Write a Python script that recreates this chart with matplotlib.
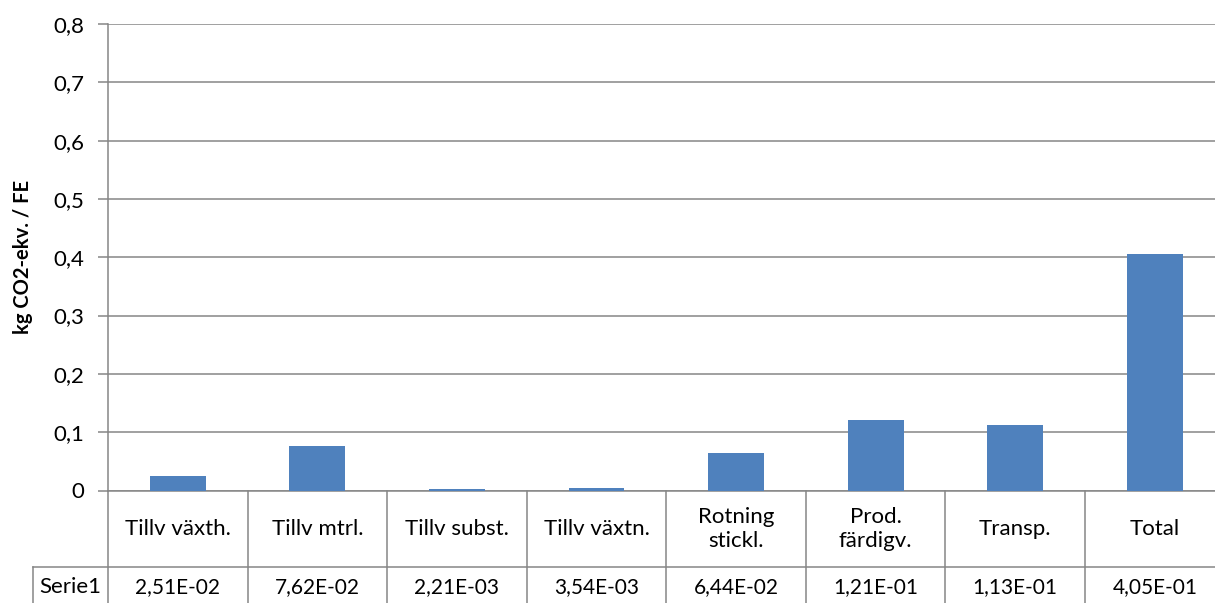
import matplotlib
matplotlib.use('Agg')
import matplotlib.pyplot as plt
import matplotlib.transforms as mtrans
from matplotlib.ticker import FuncFormatter

categories = ['Tillv växth.', 'Tillv mtrl.', 'Tillv subst.', 'Tillv växtn.',
              'Rotning\nstickl.', 'Prod.\nfärdigv.', 'Transp.', 'Total']
values = [0.0251, 0.0762, 0.00221, 0.00354, 0.0644, 0.121, 0.113, 0.405]
series_name = 'Serie1'
y_ticks = [0, 0.1, 0.2, 0.3, 0.4, 0.5, 0.6, 0.7, 0.8]

plt.rcParams['font.family'] = ['Lato', 'DejaVu Sans']
grid_col = '#868686'
bar_col = '#4F81BD'
fs = 16

W, H = 1215, 603
fig = plt.figure(figsize=(W / 100, H / 100), dpi=100)
# plot area in pixels: x 108..1224.6, y 24..490.5
ax = fig.add_axes([108 / W, (H - 490.5) / H, (1224.6 - 108) / W, (490.5 - 24) / H])

x = list(range(len(categories)))
ax.bar(x, values, width=0.4, color=bar_col, zorder=3)

ax.set_xlim(-0.5, len(categories) - 0.5)
ax.set_ylim(0, 0.8)
ax.set_yticks(y_ticks)
ax.yaxis.set_major_formatter(FuncFormatter(lambda v, p: '0' if v == 0 else f'{v:.1f}'.replace('.', ',')))
ax.yaxis.grid(True, color=grid_col, linewidth=1.1, zorder=0)
ax.tick_params(axis='y', length=7, width=1.1, color=grid_col, labelsize=fs, pad=10)
ax.set_xticks([])
for s in ['top', 'right']:
    ax.spines[s].set_visible(False)
for s in ['left', 'bottom']:
    ax.spines[s].set_color(grid_col)
    ax.spines[s].set_linewidth(1.1)

ax.set_ylabel('kg CO2-ekv. / FE', fontsize=14.5, fontweight='bold')
ax.yaxis.set_label_coords(-(108 - 33) / (1224.6 - 108), 0.5)

# data table below the axis
tr = mtrans.blended_transform_factory(ax.transData, ax.transAxes)
row1_bottom = (490.5 - 567) / (490.5 - 24)
table_bottom = (490.5 - 610) / (490.5 - 24)
row1_mid = (490.5 - 529) / (490.5 - 24)
row2_mid = (490.5 - 587) / (490.5 - 24)
lw = 1.1

for i in range(len(categories) + 1):
    ax.plot([i - 0.5, i - 0.5], [0, table_bottom], transform=tr, color=grid_col,
            lw=lw, clip_on=False)
left_x = -0.5 - (108 - 33) / 139.6
ax.plot([left_x, len(categories) - 0.5], [row1_bottom, row1_bottom], transform=tr,
        color=grid_col, lw=lw, clip_on=False)
ax.plot([left_x, left_x], [row1_bottom, table_bottom], transform=tr,
        color=grid_col, lw=lw, clip_on=False)

for i, (c, v) in enumerate(zip(categories, values)):
    ax.text(i, row1_mid, c, transform=tr, ha='center', va='center', fontsize=fs,
            linespacing=1.2)
    ax.text(i, row2_mid, f'{v:.2E}'.replace('.', ','), transform=tr, ha='center',
            va='center', fontsize=15)
ax.text((left_x - 0.5) / 2, row2_mid, series_name, transform=tr, ha='center',
        va='center', fontsize=fs)

fig.savefig('out.png', dpi=100)
